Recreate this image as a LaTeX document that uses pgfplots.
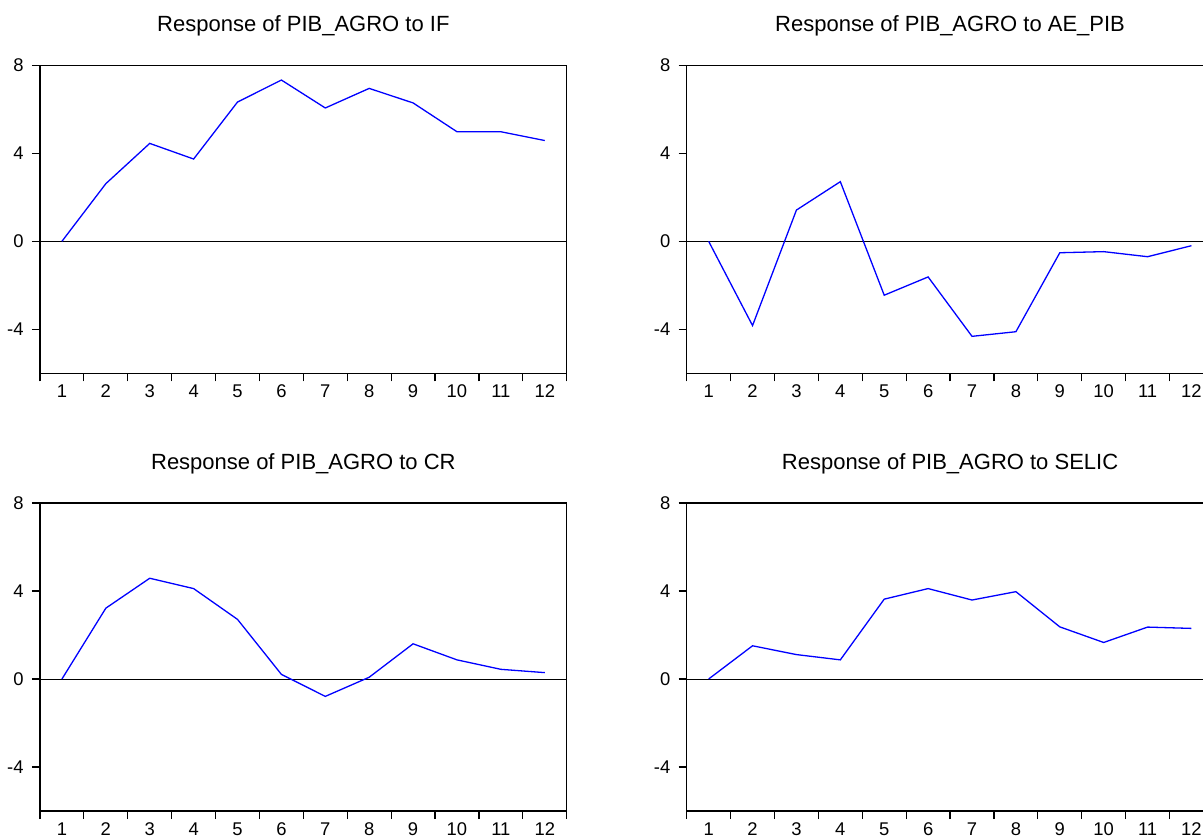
\documentclass[border=0pt]{standalone}
\usepackage{fontspec}
\setmainfont{Liberation Sans}
\usepackage{pgfplots}
\pgfplotsset{compat=1.18}

\pgfplotsset{
  irf/.style={
    scale only axis,
    width=263.35pt, height=154pt,
    xmin=0.5, xmax=12.5, ymin=-6, ymax=8,
    axis line style={line width=0.6pt, black},
    tick align=outside,
    xtick pos=bottom, ytick pos=left,
    major tick length=4pt,
    tick style={black, line width=0.6pt},
    xtick={0.5,1.5,2.5,3.5,4.5,5.5,6.5,7.5,8.5,9.5,10.5,11.5,12.5},
    xticklabels={},
    extra x ticks={1,2,3,4,5,6,7,8,9,10,11,12},
    extra x tick labels={1,2,3,4,5,6,7,8,9,10,11,12},
    extra x tick style={major tick length=0pt},
    ytick={-4,0,4,8},
    yticklabels={-4,0,4,8},
    ticklabel style={font=\fontsize{9.2}{10}\selectfont, text=black},
    xticklabel style={anchor=base, inner sep=0pt, yshift=-12.2pt},
    yticklabel style={anchor=east, inner sep=0pt, xshift=-4pt},
    title style={at={(0.5,1)}, anchor=base, yshift=11pt,
      font=\fontsize{11}{12}\selectfont},
  },
  irfline/.style={color={rgb,255:red,0;green,0;blue,255}, line width=0.65pt},
  zeroline/.style={black, line width=0.5pt},
}

\begin{document}
\begin{tikzpicture}
% top left
\begin{axis}[irf, at={(20pt,231.85pt)}, anchor=south west,
  title={Response of PIB\_AGRO to IF}]
\addplot[zeroline] coordinates {(0.5,0) (12.5,0)};
\addplot[irfline] coordinates {
 (1,0) (2,2.62) (3,4.45) (4,3.74) (5,6.33) (6,7.33)
 (7,6.06) (8,6.95) (9,6.29) (10,4.98) (11,4.98) (12,4.58)};
\end{axis}
% top right
\begin{axis}[irf, at={(343.35pt,231.85pt)}, anchor=south west,
  title={Response of PIB\_AGRO to AE\_PIB}]
\addplot[zeroline] coordinates {(0.5,0) (12.5,0)};
\addplot[irfline] coordinates {
 (1,0) (2,-3.83) (3,1.42) (4,2.71) (5,-2.45) (6,-1.62)
 (7,-4.32) (8,-4.11) (9,-0.52) (10,-0.47) (11,-0.70) (12,-0.20)};
\end{axis}
% bottom left
\begin{axis}[irf, at={(20pt,13pt)}, anchor=south west,
  title={Response of PIB\_AGRO to CR}]
\addplot[zeroline] coordinates {(0.5,0) (12.5,0)};
\addplot[irfline] coordinates {
 (1,0) (2,3.22) (3,4.58) (4,4.11) (5,2.71) (6,0.21)
 (7,-0.79) (8,0.08) (9,1.60) (10,0.87) (11,0.44) (12,0.29)};
\end{axis}
% bottom right
\begin{axis}[irf, at={(343.35pt,13pt)}, anchor=south west,
  title={Response of PIB\_AGRO to SELIC}]
\addplot[zeroline] coordinates {(0.5,0) (12.5,0)};
\addplot[irfline] coordinates {
 (1,0) (2,1.51) (3,1.11) (4,0.87) (5,3.63) (6,4.11)
 (7,3.59) (8,3.97) (9,2.37) (10,1.66) (11,2.36) (12,2.30)};
\end{axis}
\pgfresetboundingbox
\useasboundingbox (0pt,0pt) rectangle (601.5pt,418.5pt);
\end{tikzpicture}
\end{document}
